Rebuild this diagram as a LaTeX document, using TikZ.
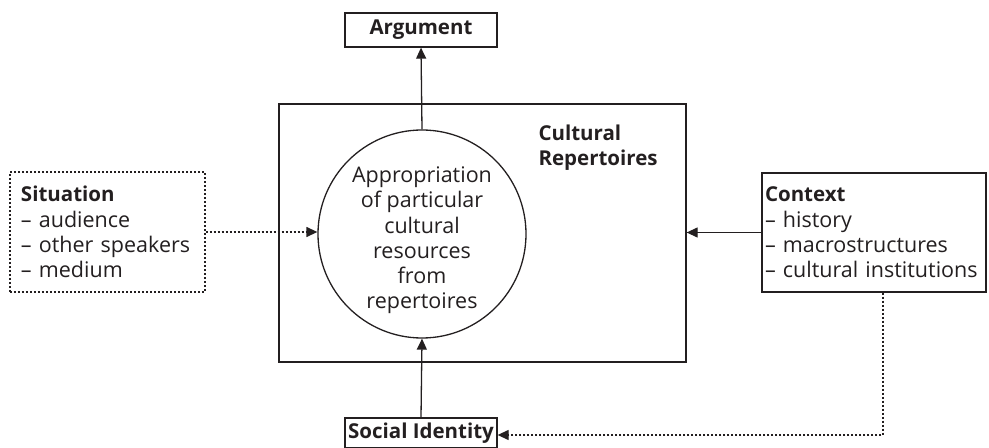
\documentclass[tikz,border=0pt]{standalone}
\usepackage{fontspec}
\setmainfont{Open Sans}
\usetikzlibrary{arrows.meta,shapes.geometric}
\definecolor{ink}{HTML}{231F20}
\newcommand{\regfont}{\fontsize{21.5bp}{25.3bp}\selectfont}
\newcommand{\boldfont}{\fontsize{20.5bp}{25.3bp}\selectfont\bfseries}
\newcommand{\ind}{\hspace*{6bp}}
\begin{document}
\begin{tikzpicture}[x=1bp,y=-1bp,
  every node/.style={text=ink,font=\regfont},
  solidbox/.style={draw=ink,line width=1.3bp,inner sep=0pt},
  dotbox/.style={draw=ink,line width=1.3bp,inner sep=0pt,dash pattern=on 2bp off 2bp},
  conn/.style={draw=ink,line width=1.3bp,-{Triangle[length=11bp,width=10bp]}},
  dotconn/.style={conn,dash pattern=on 2bp off 2bp}]
\useasboundingbox (0,0) rectangle (989,448);
% big rectangle
\node[solidbox,minimum width=407bp,minimum height=258bp] (rep) at (482.5,233) {};
\node[anchor=base west,align=left,font=\boldfont] (reptext) at (535,166) {Cultural\\Repertoires};
% circle
\node[solidbox,circle,minimum size=208bp] (circ) at (422,234) {};
\node[anchor=base,align=center] (circtext) at (422,309) {Appropriation\\of particular\\cultural\\resources\\from\\repertoires};
% argument
\node[solidbox,minimum width=152bp,minimum height=34bp,font=\boldfont] (arg) at (421,30) {Argument};
% social identity
\node[solidbox,minimum width=152bp,minimum height=30bp,font=\boldfont] (soc) at (421,433) {Social Identity};
% situation
\node[dotbox,minimum width=195bp,minimum height=120bp,text width=185bp,align=left] (sit) at (107.5,232)
  {\hyphenpenalty=10000\ind{\boldfont Situation}\\\ind– audience\\\ind– other speakers\\\ind– medium};
% context
\node[solidbox,minimum width=224bp,minimum height=119bp,text width=218bp,align=left] (ctx) at (874,232.5)
  {\hyphenpenalty=10000{\boldfont Context}\\– history\\– macrostructures\\– cultural institutions};
\coordinate (bend) at (883,435);
% connectors
\draw[conn] (circ.north) -- (arg.south);
\draw[conn] (soc.north) -- (circ.south);
\draw[conn] (ctx.west) -- (ctx.west -| rep.east);
\draw[dotconn] (sit.east) -- (sit.east -| circ.west);
\draw[dotconn] (ctx.south -| bend) -- (bend) -- (bend -| soc.east);
\end{tikzpicture}
\end{document}
